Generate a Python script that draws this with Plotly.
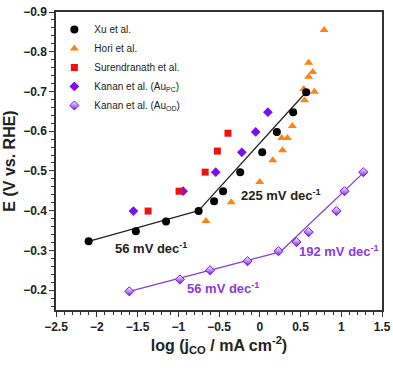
import plotly.graph_objects as go

# ---- data ----
xu_x = [-2.1, -1.52, -1.15, -0.75, -0.56, -0.45, -0.24, 0.03, 0.21, 0.41, 0.57]
xu_y = [-0.323, -0.348, -0.373, -0.399, -0.424, -0.449, -0.497, -0.547, -0.598, -0.648, -0.698]

hori_x = [0.79, 0.60, 0.65, 0.60, 0.54, 0.67, 0.55, 0.40, 0.27, 0.34, 0.28, 0.16, 0.0, -0.35, -0.66]
hori_y = [-0.855, -0.772, -0.749, -0.737, -0.706, -0.699, -0.678, -0.613, -0.583, -0.583, -0.552, -0.527, -0.472, -0.421, -0.374]

sur_x = [-0.39, -0.52, -0.67, -0.99, -1.37]
sur_y = [-0.595, -0.550, -0.497, -0.449, -0.399]

kpc_x = [0.10, -0.05, -0.22, -0.54, -0.94, -1.55]
kpc_y = [-0.648, -0.598, -0.547, -0.497, -0.449, -0.399]

kod_x = [-1.60, -0.98, -0.61, -0.15, 0.23, 0.45, 0.60, 0.94, 1.04, 1.27]
kod_y = [-0.197, -0.227, -0.250, -0.273, -0.298, -0.321, -0.346, -0.399, -0.449, -0.497]

# fitted Tafel lines
xu_fit1_x = [-2.1, -0.75]
xu_fit1_y = [-0.323, -0.400]
xu_fit2_x = [-0.75, 0.59]
xu_fit2_y = [-0.400, -0.703]
kod_fit1_x = [-1.6, 0.25]
kod_fit1_y = [-0.197, -0.296]
kod_fit2_x = [0.25, 1.28]
kod_fit2_y = [-0.296, -0.497]

slope_labels = ["56 mV dec<sup>-1</sup>", "225 mV dec<sup>-1</sup>", "192 mV dec<sup>-1</sup>", "56 mV dec<sup>-1</sup>"]
slope_x = [-1.33, 0.26, 0.97, -0.45]
slope_y = [-0.306, -0.439, -0.298, -0.205]

BLACK = "#000000"
ORANGE = "#FF8412"
RED = "#EE1111"
PURPLE = "#7A10F0"
LPURPLE = "#8A3BE0"
FONT = "Liberation Sans, Arial"

fig = go.Figure()

for fx, fy, c in [(xu_fit1_x, xu_fit1_y, "#222"), (xu_fit2_x, xu_fit2_y, "#222"),
                  (kod_fit1_x, kod_fit1_y, LPURPLE), (kod_fit2_x, kod_fit2_y, LPURPLE)]:
    fig.add_trace(go.Scatter(x=fx, y=fy, mode="lines", line=dict(color=c, width=1.3),
                             showlegend=False, hoverinfo="skip"))

fig.add_trace(go.Scatter(x=kpc_x, y=kpc_y, mode="markers", name="Kanan et al. (Au<sub>PC</sub>)",
                         marker=dict(symbol="diamond", size=7.5, color=PURPLE, line=dict(width=0)), legendrank=4))
fig.add_trace(go.Scatter(x=sur_x, y=sur_y, mode="markers", name="Surendranath et al.",
                         marker=dict(symbol="square", size=7, color=RED, line=dict(width=0)), legendrank=3))
fig.add_trace(go.Scatter(x=hori_x, y=hori_y, mode="markers", name="Hori et al.",
                         marker=dict(symbol="triangle-up", size=8, color=ORANGE, line=dict(width=0)), legendrank=2))
fig.add_trace(go.Scatter(x=xu_x, y=xu_y, mode="markers", name="Xu et al.",
                         marker=dict(symbol="circle", size=8, color=BLACK, line=dict(width=0)), legendrank=1))
fig.add_trace(go.Scatter(x=kod_x, y=kod_y, mode="markers", name="Kanan et al. (Au<sub>OD</sub>)",
                         marker=dict(symbol="diamond", size=7, color="white",
                                     gradient=dict(type="vertical", color=PURPLE),
                                     line=dict(width=1, color=PURPLE)), legendrank=5))

ann_colors = ["#222", "#222", LPURPLE, LPURPLE]
for t, x, y, c in zip(slope_labels, slope_x, slope_y, ann_colors):
    fig.add_annotation(x=x, y=y, text=t, showarrow=False,
                       font=dict(family=FONT, size=13, color=c, weight="bold"))

axis_common = dict(showline=True, linecolor="#333", linewidth=1.5, mirror=True,
                   ticks="outside", ticklen=5, tickwidth=1.2, tickcolor="#333",
                   showgrid=False, zeroline=False, automargin=False,
                   tickfont=dict(family=FONT, size=12, color="#222", weight="bold"))

fig.update_layout(
    width=393, height=370,
    margin=dict(l=56, r=11, t=12, b=60),
    plot_bgcolor="white", paper_bgcolor="white",
    font=dict(family=FONT, color="#222"),
    legend=dict(x=-0.005, y=0.99, xanchor="left", yanchor="top",
                font=dict(family=FONT, size=10, color="#222"),
                bgcolor="rgba(0,0,0,0)", tracegroupgap=0, traceorder="normal"),
    xaxis=dict(range=[-2.5, 1.5], dtick=0.5, tick0=0,
               minor=dict(dtick=0.1, ticks="outside", ticklen=3, tickcolor="#333"),
               title=dict(text="log (j<sub>CO</sub> / mA cm<sup>-2</sup>)", standoff=6,
                          font=dict(family=FONT, size=16, color="#222", weight="bold")),
               **axis_common),
    yaxis=dict(range=[-0.15, -0.9], dtick=0.1, tick0=0, tickformat=".1f",
               minor=dict(dtick=0.02, ticks="outside", ticklen=3, tickcolor="#333"),
               title=dict(text="E (V vs. RHE)", standoff=4,
                          font=dict(family=FONT, size=16, color="#222", weight="bold")),
               **axis_common),
)

fig.write_html("out.html", config={"displayModeBar": False},
               post_script="document.body.style.margin='0';document.body.style.padding='0';")
